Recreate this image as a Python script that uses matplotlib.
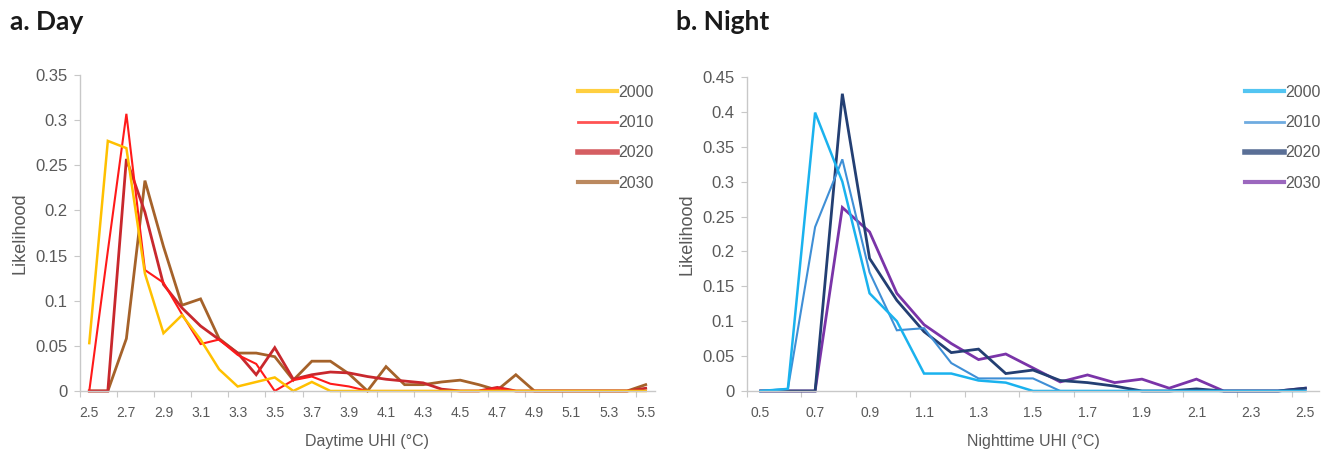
import matplotlib.pyplot as plt
from matplotlib.ticker import FixedLocator, FuncFormatter

plt.rcParams['font.family'] = ['Liberation Sans', 'DejaVu Sans']

# categories (UHI in deg C, step 0.1)
day_cats = [round(2.5 + 0.1 * i, 1) for i in range(31)]
night_cats = [round(0.5 + 0.1 * i, 1) for i in range(21)]

years = ['2000', '2010', '2020', '2030']

# a. Day likelihoods
day_2000 = [0.053, 0.277, 0.269, 0.130, 0.064, 0.084, 0.057, 0.024, 0.005, 0.010,
            0.015, 0.0, 0.010, 0.0, 0.0, 0.0, 0.0, 0.0, 0.0, 0.0,
            0.0, 0.0, 0.0, 0.0, 0.0, 0.0, 0.0, 0.0, 0.0, 0.0, 0.0]
day_2010 = [0.0, 0.155, 0.307, 0.134, 0.120, 0.085, 0.052, 0.057, 0.040, 0.030,
            0.0, 0.012, 0.016, 0.008, 0.005, 0.0, 0.0, 0.0, 0.0, 0.0,
            0.0, 0.0, 0.003, 0.0, 0.0, 0.0, 0.0, 0.0, 0.0, 0.0, 0.0]
day_2020 = [0.0, 0.0, 0.257, 0.198, 0.118, 0.092, 0.072, 0.057, 0.042, 0.018,
            0.048, 0.013, 0.018, 0.021, 0.020, 0.016, 0.013, 0.011, 0.009, 0.002,
            0.0, 0.0, 0.004, 0.0, 0.0, 0.0, 0.0, 0.0, 0.0, 0.0, 0.003]
day_2030 = [0.0, 0.0, 0.058, 0.233, 0.160, 0.095, 0.102, 0.058, 0.042, 0.042,
            0.038, 0.012, 0.033, 0.033, 0.019, 0.0, 0.027, 0.007, 0.007, 0.010,
            0.012, 0.007, 0.001, 0.018, 0.0, 0.0, 0.0, 0.0, 0.0, 0.0, 0.007]

# b. Night likelihoods
night_2000 = [0.0, 0.003, 0.399, 0.300, 0.140, 0.100, 0.025, 0.025, 0.015, 0.012,
              0.0, 0.0, 0.0, 0.0, 0.0, 0.0, 0.0, 0.0, 0.0, 0.0, 0.0]
night_2010 = [0.0, 0.003, 0.235, 0.332, 0.170, 0.087, 0.090, 0.040, 0.018, 0.018,
              0.018, 0.0, 0.0, 0.0, 0.0, 0.0, 0.0, 0.0, 0.0, 0.0, 0.0]
night_2020 = [0.0, 0.0, 0.0, 0.426, 0.190, 0.130, 0.085, 0.055, 0.060, 0.025,
              0.030, 0.015, 0.012, 0.007, 0.0, 0.0, 0.003, 0.0, 0.0, 0.0, 0.004]
night_2030 = [0.0, 0.0, 0.0, 0.263, 0.228, 0.140, 0.095, 0.068, 0.045, 0.053,
              0.033, 0.013, 0.023, 0.012, 0.017, 0.004, 0.017, 0.0, 0.0, 0.0, 0.004]

day_colors = ['#ffc000', '#ff1a1a', '#c8282d', '#a5622a']
night_colors = ['#1ab2ee', '#3f8fd6', '#233f73', '#7a34a8']
line_w = [1.8, 1.5, 2.0, 2.0]
leg_w = [3.0, 2.0, 4.0, 3.0]

grey = '#595959'
axis_grey = '#c8c8c8'

fig = plt.figure(figsize=(13.38, 4.54), dpi=100)
ax1 = fig.add_axes([0.0598, 0.1388, 0.4297, 0.696])
ax2 = fig.add_axes([0.5583, 0.1388, 0.4275, 0.6916])


def style_axis(ax, cats, ymax, ystep, xlabel):
    n = len(cats)
    ax.set_xlim(0, n)
    ax.set_ylim(0, ymax)
    for s in ['top', 'right']:
        ax.spines[s].set_visible(False)
    for s in ['left', 'bottom']:
        ax.spines[s].set_color(axis_grey)
        ax.spines[s].set_linewidth(1.0)
    # ticks sit between category pairs, labels on every other category
    ax.xaxis.set_major_locator(FixedLocator(list(range(0, n + 1, 2))))
    ax.xaxis.set_major_formatter(FuncFormatter(lambda v, p: ''))
    ax.xaxis.set_minor_locator(FixedLocator([i + 0.5 for i in range(0, n, 2)]))
    ax.xaxis.set_minor_formatter(FuncFormatter(
        lambda v, p: f"{cats[int(v)]:.1f}"))
    ax.tick_params(axis='x', which='major', length=4, color=axis_grey)
    ax.tick_params(axis='x', which='minor', length=0, pad=11,
                   labelsize=10, labelcolor=grey)
    yt = [round(ystep * i, 2) for i in range(int(round(ymax / ystep)) + 1)]
    ax.set_yticks(yt)
    ax.set_yticklabels([f"{v:g}" for v in yt])
    ax.tick_params(axis='y', length=4, color=axis_grey, labelsize=12,
                   labelcolor=grey, pad=5)
    ax.set_xlabel(xlabel, fontsize=11.5, color=grey, labelpad=10)
    ax.set_ylabel('Likelihood', fontsize=13, color=grey, labelpad=5)


day_series = [day_2000, day_2010, day_2020, day_2030]
night_series = [night_2000, night_2010, night_2020, night_2030]

xd = [i + 0.5 for i in range(len(day_cats))]
xn = [i + 0.5 for i in range(len(night_cats))]

# draw in reverse so 2000 ends up on top like the original
for vals, c, lw in reversed(list(zip(day_series, day_colors, line_w))):
    ax1.plot(xd, vals, color=c, lw=lw, solid_joinstyle='miter', clip_on=False)
for vals, c, lw in reversed(list(zip(night_series, night_colors, line_w))):
    ax2.plot(xn, vals, color=c, lw=lw, solid_joinstyle='miter', clip_on=False)

style_axis(ax1, day_cats, 0.35, 0.05, 'Daytime UHI (°C)')
style_axis(ax2, night_cats, 0.45, 0.05, 'Nighttime UHI (°C)')

# legends (frameless, upper right)
for ax, colors, anchor in [(ax1, day_colors, (578 / 1338, 1 - 85 / 454)),
                           (ax2, night_colors, (1245 / 1338, 1 - 85 / 454))]:
    handles = [plt.Line2D([], [], color=c, lw=w, alpha=0.75)
               for c, w in zip(colors, leg_w)]
    fig.legend(handles, years, loc='upper left', bbox_to_anchor=anchor,
               frameon=False, fontsize=11.5, handlelength=2.45,
               handletextpad=0.1, labelspacing=0.95, borderpad=0,
               borderaxespad=0, labelcolor=grey)

fig.text(10 / 1338, 1 - 22 / 454, 'a. Day', fontsize=19, fontweight='bold',
         family=['Lato', 'DejaVu Sans'], va='center', ha='left', color='#1a1a1a')
fig.text(676 / 1338, 1 - 22 / 454, 'b. Night', fontsize=19, fontweight='bold',
         family=['Lato', 'DejaVu Sans'], va='center', ha='left', color='#1a1a1a')

fig.savefig('out.png', dpi=100)
